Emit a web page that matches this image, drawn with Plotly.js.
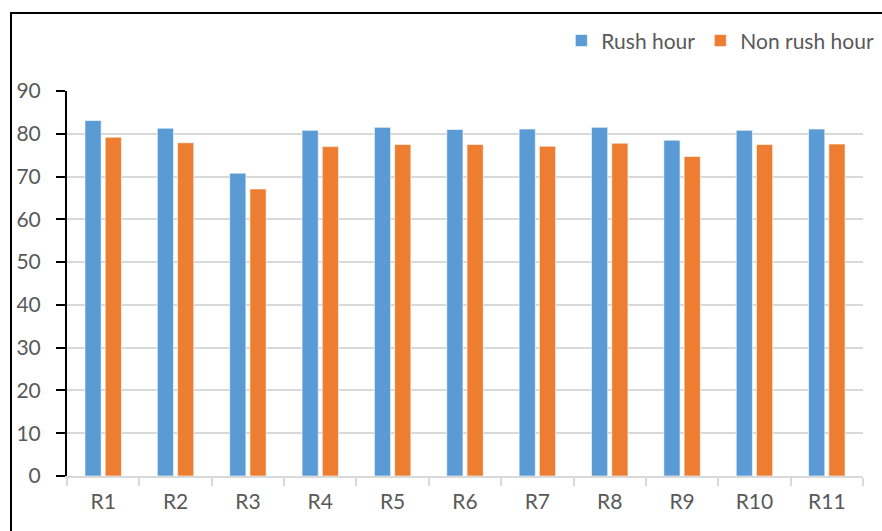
<!DOCTYPE html>
<html>
<head>
<meta charset="utf-8">
<script src="https://cdn.plot.ly/plotly-3.0.1.min.js"></script>
<style>
  html, body { margin: 0; padding: 0; width: 882px; height: 531px; overflow: hidden; background: #fff; }
  #frame { position: absolute; left: 10px; top: 12px; width: 900px; height: 600px; border: 2px solid #000; box-sizing: border-box; }
  #chart { position: absolute; left: 0; top: 0; width: 882px; height: 531px; }
</style>
</head>
<body>
<div id="frame"></div>
<div id="chart"></div>
<script>
const categories = ["R1", "R2", "R3", "R4", "R5", "R6", "R7", "R8", "R9", "R10", "R11"];
const rushHour = [83.1, 81.3, 70.8, 80.8, 81.5, 81.0, 81.1, 81.5, 78.5, 80.8, 81.1];
const nonRushHour = [79.2, 77.9, 67.1, 77.0, 77.5, 77.5, 77.1, 77.8, 74.7, 77.5, 77.6];
const seriesNames = ["Rush hour", "Non rush hour"];
const yTicks = [0, 10, 20, 30, 40, 50, 60, 70, 80, 90];

const fam = "Lato, 'Open Sans', sans-serif";
const textColor = "#595959";

const traces = [
  { type: "bar", name: seriesNames[0], x: categories, y: rushHour,
    marker: { color: "#5B9BD5", line: { color: "rgba(255,255,255,0.6)", width: 1 } } },
  { type: "bar", name: seriesNames[1], x: categories, y: nonRushHour,
    marker: { color: "#ED7D31", line: { color: "rgba(255,255,255,0.6)", width: 1 } } }
];

const layout = {
  width: 882, height: 531,
  margin: { l: 67, r: 19, t: 91, b: 55, pad: 0, autoexpand: false },
  paper_bgcolor: "rgba(0,0,0,0)",
  plot_bgcolor: "rgba(0,0,0,0)",
  font: { family: fam, size: 21, color: textColor },
  barmode: "group",
  bargap: 0.44,
  bargroupgap: 0.2,
  showlegend: true,
  legend: {
    orientation: "h", xref: "container", yref: "container",
    x: 0.997, xanchor: "right", y: 0.923, yanchor: "middle",
    font: { family: fam, size: 21, color: textColor },
    bgcolor: "rgba(0,0,0,0)", traceorder: "normal"
  },
  xaxis: {
    type: "category",
    showgrid: false,
    showline: true, linecolor: "#D9D9D9", linewidth: 2,
    ticks: "outside", tickson: "boundaries", ticklen: 8, tickcolor: "#D9D9D9", tickwidth: 2,
    tickfont: { family: fam, size: 21, color: textColor },
    ticklabelstandoff: 6,
    zeroline: false
  },
  yaxis: {
    range: [0, 90],
    tickvals: yTicks,
    showgrid: true, gridcolor: "#D9D9D9", gridwidth: 2,
    showline: true, linecolor: "#000", linewidth: 2,
    ticks: "outside", ticklen: 9, tickcolor: "#000", tickwidth: 2,
    tickfont: { family: fam, size: 21, color: textColor },
    ticklabelstandoff: 11,
    zeroline: false
  }
};

Plotly.newPlot("chart", traces, layout, { displayModeBar: false, staticPlot: true });
</script>
</body>
</html>
